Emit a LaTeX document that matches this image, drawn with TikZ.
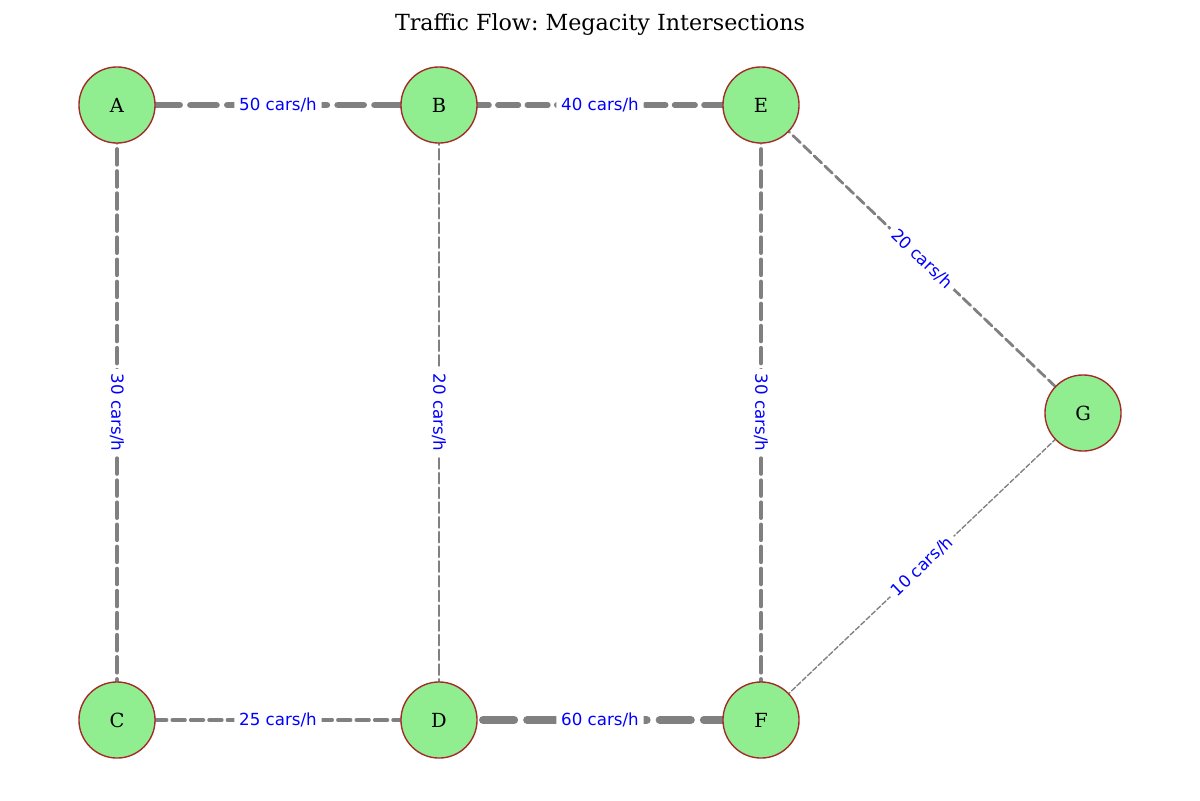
\documentclass[tikz,border=0pt]{standalone}
\usepackage{fontspec}
\setmainfont{DejaVu Serif}
\newfontfamily\labelfont{DejaVu Sans}
\usetikzlibrary{calc,backgrounds}
\definecolor{nodefill}{HTML}{90EE90}
\definecolor{nodeedge}{HTML}{A52A2A}
\definecolor{edgegray}{HTML}{808080}
\frenchspacing
\begin{document}
\begin{tikzpicture}[x=0.72pt,y=-0.72pt,
  junction/.style={circle,draw=nodeedge,fill=nodefill,line width=1pt,minimum size=54.77pt,inner sep=0pt,font=\fontsize{14}{16}\selectfont},
  road/.style={draw=edgegray,line width=#1pt,line cap=round,dash pattern=on {3.7*#1pt} off {1.6*#1pt}},
  flow/.style={fill=white,text=blue,inner sep=3.5pt,rounded corners=2pt,font=\labelfont\fontsize{12}{14}\selectfont}]
\useasboundingbox (0,0) rectangle (1200,800);
\node[font=\fontsize{16}{19}\selectfont] (title) at (600,25) {Traffic Flow: Megacity Intersections};
% nodes
\node[junction] (A) at (117,105) {A};
\node[junction] (B) at (439,105) {B};
\node[junction] (E) at (761,105) {E};
\node[junction] (C) at (117,720) {C};
\node[junction] (D) at (439,720) {D};
\node[junction] (F) at (761,720) {F};
\node[junction] (G) at (1083,413) {G};
% edges
\begin{scope}[on background layer]
\draw[road=5] (A.center) -- (B.center);
\draw[road=4] (B.center) -- (E.center);
\draw[road=3] (A.center) -- (C.center);
\draw[road=2] (B.center) -- (D.center);
\draw[road=3] (E.center) -- (F.center);
\draw[road=2] (E.center) -- (G.center);
\draw[road=2.5] (C.center) -- (D.center);
\draw[road=6] (D.center) -- (F.center);
\draw[road=1] (G.center) -- (F.center);
\end{scope}
% labels
\node[flow] (lAB) at ($(A)!0.5!(B)$) {50 cars/h};
\node[flow] (lBE) at ($(B)!0.5!(E)$) {40 cars/h};
\node[flow,rotate=-90] (lAC) at ($(A)!0.5!(C)$) {30 cars/h};
\node[flow,rotate=-90] (lBD) at ($(B)!0.5!(D)$) {20 cars/h};
\node[flow,rotate=-90] (lEF) at ($(E)!0.5!(F)$) {30 cars/h};
\node[flow,rotate=-43.7] (lEG) at ($(E)!0.5!(G)$) {20 cars/h};
\node[flow] (lCD) at ($(C)!0.5!(D)$) {25 cars/h};
\node[flow] (lDF) at ($(D)!0.5!(F)$) {60 cars/h};
\node[flow,rotate=43.6] (lGF) at ($(G)!0.5!(F)$) {10 cars/h};
\end{tikzpicture}
\end{document}
